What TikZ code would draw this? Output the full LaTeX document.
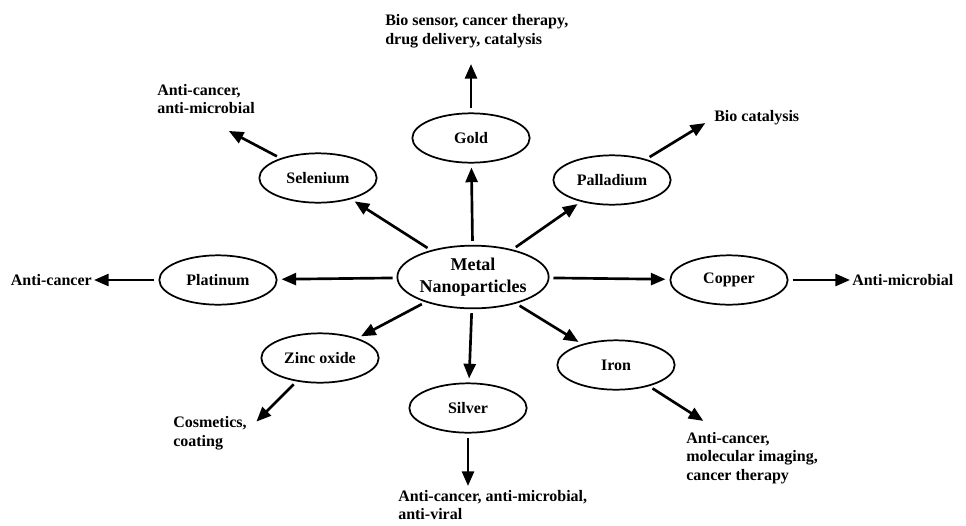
\documentclass[tikz,border=0pt]{standalone}
\usepackage{fontspec}
\setmainfont{Liberation Serif}
\usetikzlibrary{shapes.geometric, arrows.meta, positioning}

\begin{document}
\begin{tikzpicture}[
    x=0.75pt, y=-0.75pt,
    % Node styles
    metal/.style={ellipse, draw=black, line width=1.3pt, minimum width=108pt, minimum height=47pt, inner sep=0pt, align=center, font=\fontsize{13.5}{16}\selectfont\bfseries},
    element/.style={ellipse, draw=black, line width=1.3pt, minimum width=88pt, minimum height=37pt, inner sep=0pt, font=\fontsize{12}{14}\selectfont\bfseries},
    use/.style={inner sep=0pt, align=left, font=\fontsize{12}{14}\selectfont\bfseries},
    arrow/.style={-{Triangle[length=11pt, width=9pt]}, line width=2pt, shorten <=3pt, shorten >=3pt},
    outarrow/.style={-{Triangle[length=11pt, width=9pt]}, line width=2pt, shorten <=3pt, shorten >=1.5pt},
]
\useasboundingbox (0,0) rectangle (966,525);

% === CENTER ===
\node[metal] (metal) at (473,277) {Metal\\Nanoparticles};

% === Elements ===
\node[element] (gold) at (471,138) {Gold};
\node[element] (selenium) at (318,178) {Selenium};
\node[element] (palladium) at (612,180) {Palladium};
\node[element] (platinum) at (218,280) {Platinum};
\node[element] (copper) at (729,280) {Copper};
\node[element] (zinc) at (320,358) {Zinc oxide};
\node[element] (silver) at (468,408) {Silver};
\node[element] (iron) at (616,365) {Iron};

% === Applications ===
\node[use, anchor=west] (goldapp) at (385,31) {Bio sensor, cancer therapy,\\drug delivery, catalysis};
\node[use, anchor=west] (selenapp) at (157,99) {Anti-cancer,\\anti-microbial};
\node[use, anchor=west] (pallapp) at (714,118) {Bio catalysis};
\node[use, anchor=east] (platapp) at (92,280) {Anti-cancer};
\node[use, anchor=west] (copperapp) at (852,280) {Anti-microbial};
\node[use, anchor=west] (zincapp) at (173,433) {Cosmetics,\\coating};
\node[use, anchor=west] (silverapp) at (398,505) {Anti-cancer, anti-microbial,\\anti-viral};
\node[use, anchor=west] (ironapp) at (686,458) {Anti-cancer,\\molecular imaging,\\cancer therapy};

% arrow tips next to the texts
\coordinate (goldtip) at (471,62);
\coordinate (selentip) at (227,130);
\coordinate (palltip) at (707,122);
\coordinate (zinctip) at (255,423);
\coordinate (silvertip) at (468,488);
\coordinate (irontip) at (705,422);

% === Metal to elements ===
\draw[arrow] (metal) -- (gold);
\draw[arrow] (metal) -- (selenium);
\draw[arrow] (metal) -- (palladium);
\draw[arrow] (metal) -- (platinum);
\draw[arrow] (metal) -- (copper);
\draw[arrow] (metal) -- (zinc);
\draw[arrow] (metal) -- (silver);
\draw[arrow] (metal) -- (iron);

% === Elements to applications ===
\draw[outarrow] (gold) -- (goldtip);
\draw[outarrow] (selenium) -- (selentip);
\draw[outarrow] (palladium) -- (palltip);
\draw[outarrow] (platinum) -- (platapp);
\draw[outarrow] (copper) -- (copperapp);
\draw[outarrow] (zinc) -- (zinctip);
\draw[outarrow] (silver) -- (silvertip);
\draw[outarrow] (iron) -- (irontip);

\end{tikzpicture}
\end{document}
